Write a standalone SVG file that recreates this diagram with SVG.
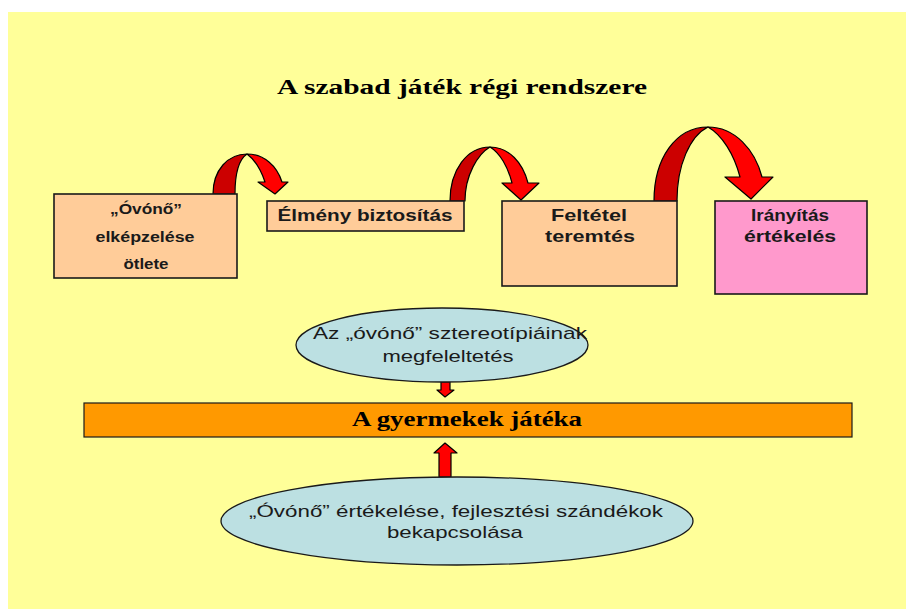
<svg xmlns="http://www.w3.org/2000/svg" width="906" height="609" viewBox="0 0 906 609">
<defs>
<style>
.bg{fill:#FFFF99}
.box{fill:#FFCC99;stroke:#1a1a1a;stroke-width:1.6}
.pink{fill:#FF99CC;stroke:#1a1a1a;stroke-width:1.6}
.ell{fill:#BCE0E2;stroke:#1a1a1a;stroke-width:1.3}
.bar{fill:#FF9900;stroke:#1a1a1a;stroke-width:1.2}
.dark{fill:#CC0000;stroke:#000;stroke-width:1.2;stroke-linejoin:round}
.bright{fill:#FF0000;stroke:#000;stroke-width:1.2;stroke-linejoin:round}
.t{font-family:"Liberation Sans",Arial,sans-serif;font-weight:bold;fill:#1a1a1a;text-anchor:middle}
.r{font-family:"Liberation Sans",Arial,sans-serif;fill:#1a1a1a;text-anchor:middle}
.s{font-family:"Liberation Serif","Times New Roman",serif;font-weight:bold;fill:#000;text-anchor:middle}
</style>
</defs>
<rect x="0" y="0" width="906" height="609" fill="#FFFFFF"/>
<rect class="bg" x="8" y="12" width="898" height="597"/>
<text class="s" x="462" y="94" font-size="21" textLength="370" lengthAdjust="spacingAndGlyphs">A szabad  játék régi rendszere</text>

<g id="connectors">
  <!-- curved arrow 1 -->
  <path class="dark" d="M213,194 C213,170 228,154 247,154 C238,160 235,176 235,194 Z"/>
  <path class="bright" d="M247,154 C264,154 277,166 282,182 L288,182 L275,194 L258,182 L265,182 C261,170 255,160 247,154 Z"/>
  <!-- curved arrow 2 -->
  <path class="dark" d="M450,201 C450,170 467,147 490,147 C478,154 465,175 465,201 Z"/>
  <path class="bright" d="M490,147 C509,147 523,163 528,183 L539,183 L521,200 L502,183 L512,183 C508,167 500,153 490,147 Z"/>
  <!-- curved arrow 3 -->
  <path class="dark" d="M654,201 C654,158 676,127 708,127 C690,136 677,165 677,201 Z"/>
  <path class="bright" d="M708,127 C735,127 755,150 762,177 L773,177 L751,199 L725,177 L740,177 C734,154 722,135 708,127 Z"/>
  <!-- down arrow ellipse to bar -->
  <path class="bright" d="M441,382 L450,382 L450,390 L454,390 L445,397 L437,390 L441,390 Z"/>
  <!-- up arrow bottom ellipse to bar -->
  <path class="bright" d="M439,477 L439,453 L434,453 L445,443 L457,453 L451,453 L451,477 Z"/>
</g>

<g id="node-ovono">
  <rect class="box" x="54" y="194" width="183" height="84"/>
  <text class="t" x="146" y="214" font-size="14" textLength="72" lengthAdjust="spacingAndGlyphs">„Óvónő”</text>
  <text class="t" x="145" y="242" font-size="14" textLength="99" lengthAdjust="spacingAndGlyphs">elképzelése</text>
  <text class="t" x="146" y="269" font-size="14" textLength="45" lengthAdjust="spacingAndGlyphs">ötlete</text>
</g>

<g id="node-elmeny">
  <rect class="box" x="267" y="201" width="197" height="30"/>
  <text class="t" x="365" y="221" font-size="16" textLength="175" lengthAdjust="spacingAndGlyphs">Élmény biztosítás</text>
</g>

<g id="node-feltetel">
  <rect class="box" x="502" y="201" width="175" height="85"/>
  <text class="t" x="589" y="221" font-size="17" textLength="76" lengthAdjust="spacingAndGlyphs">Feltétel</text>
  <text class="t" x="590" y="242" font-size="17" textLength="90" lengthAdjust="spacingAndGlyphs">teremtés</text>
</g>

<g id="node-iranyitas">
  <rect class="pink" x="715" y="201" width="152" height="93"/>
  <text class="t" x="790" y="221" font-size="17" textLength="78" lengthAdjust="spacingAndGlyphs">Irányítás</text>
  <text class="t" x="790" y="242" font-size="17" textLength="92" lengthAdjust="spacingAndGlyphs">értékelés</text>
</g>

<g id="node-sztereotipia">
  <ellipse class="ell" cx="442" cy="345" rx="146" ry="37"/>
  <text class="r" x="450" y="339" font-size="17" textLength="274" lengthAdjust="spacingAndGlyphs">Az „óvónő” sztereotípiáinak</text>
  <text class="r" x="448" y="362" font-size="17" textLength="131" lengthAdjust="spacingAndGlyphs">megfeleltetés</text>
</g>

<g id="node-jatek">
  <rect class="bar" x="84" y="403" width="768" height="34"/>
  <text class="s" x="467" y="426" font-size="21" textLength="230" lengthAdjust="spacingAndGlyphs">A gyermekek játéka</text>
</g>

<g id="node-ertekeles">
  <ellipse class="ell" cx="457" cy="521" rx="236" ry="44"/>
  <text class="r" x="456" y="517" font-size="17" textLength="414" lengthAdjust="spacingAndGlyphs">„Óvónő” értékelése, fejlesztési szándékok</text>
  <text class="r" x="455" y="538" font-size="17" textLength="136" lengthAdjust="spacingAndGlyphs">bekapcsolása</text>
</g>
</svg>
